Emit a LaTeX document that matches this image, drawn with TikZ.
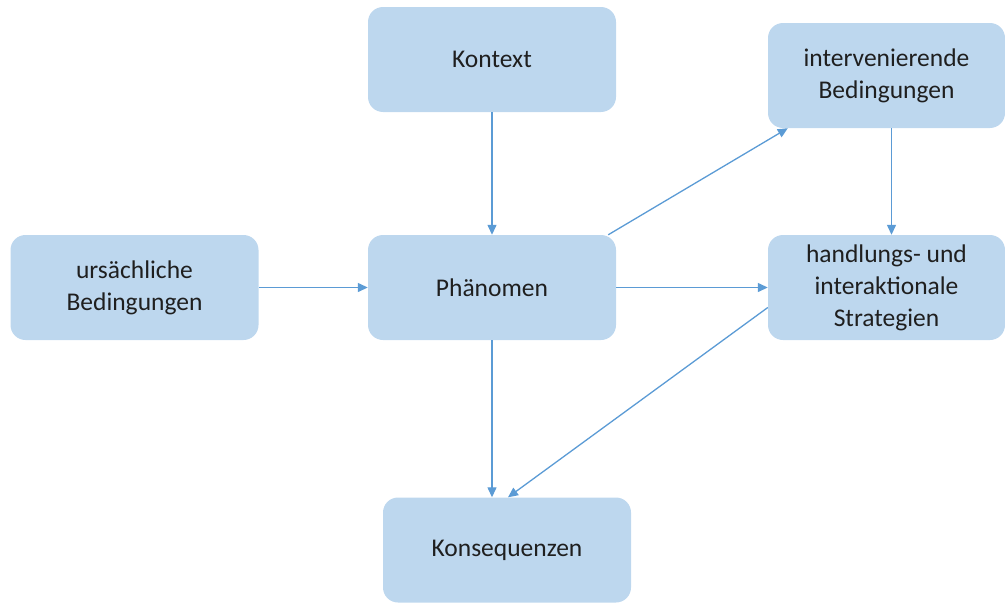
\documentclass[tikz,border=0pt]{standalone}
\usepackage{fontspec}
\setmainfont{Carlito}
\usetikzlibrary{arrows.meta}
\definecolor{boxfill}{HTML}{BDD7EE}
\definecolor{arrowcol}{HTML}{5B9BD5}
\definecolor{txt}{HTML}{1F1F1F}
\begin{document}
\begin{tikzpicture}[x=1pt,y=-1pt,
  box/.style={rectangle, rounded corners=15pt, fill=boxfill, draw=none,
    minimum width=248pt, minimum height=105pt, align=center, inner sep=0pt,
    text=txt, font=\fontsize{25.5}{32}\selectfont},
  conn/.style={draw=arrowcol, line width=1.3pt, -{Triangle[length=10pt,width=9pt]}}]
\useasboundingbox (0,0) rectangle (1005,605);
\node[box] (kon) at (492,59.5) {Kontext};
\node[box, minimum width=237pt] (int) at (886.5,75.5) {intervenierende\\Bedingungen};
\node[box] (urs) at (134.5,287.5) {ursächliche\\Bedingungen};
\node[box] (pha) at (492,287.5) {Phänomen};
\node[box, minimum width=237pt] (han) at (886.5,287.5) {handlungs- und\\interaktionale\\Strategien};
\node[box] (kq) at (507,550) {Konsequenzen};
\draw[conn] (kon.south) -- (pha.north);
\draw[conn] (urs.east) -- (pha.west);
\draw[conn] ([xshift=-8pt]pha.north east) -- ([xshift=20pt]int.south west);
\draw[conn] ([xshift=5pt]int.south) -- ([xshift=5pt]han.north);
\draw[conn] (pha.east) -- (han.west);
\draw[conn] (pha.south) -- (pha.south |- kq.north);
\draw[conn] ([yshift=-20pt]han.west) -- ([xshift=1pt]kq.north);
\end{tikzpicture}
\end{document}
